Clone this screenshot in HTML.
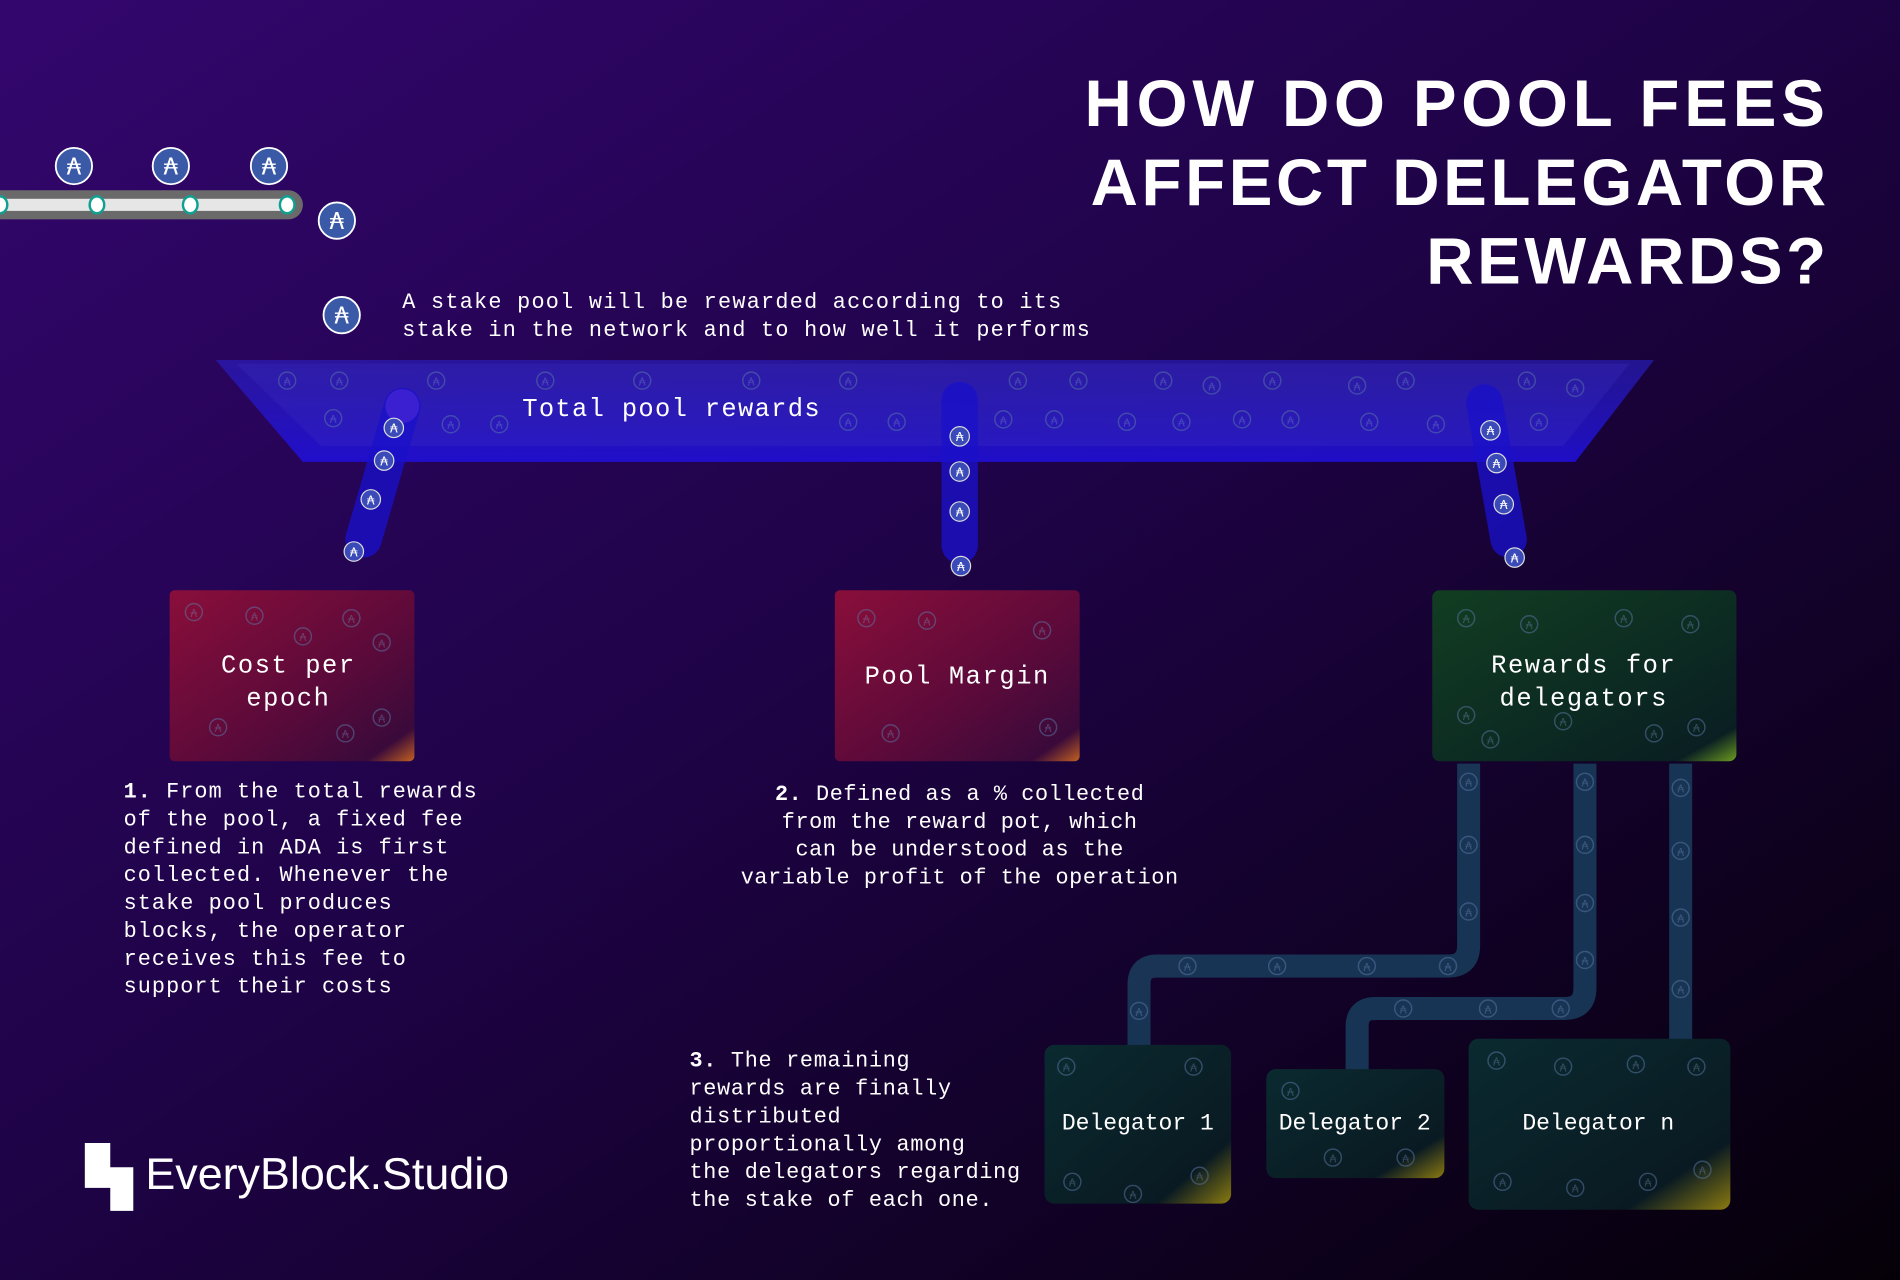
<!DOCTYPE html>
<html><head><meta charset="utf-8"><style>
html,body{margin:0;padding:0;background:#12002a;}
svg{display:block}
text{font-family:"Liberation Mono","DejaVu Sans Mono",monospace;fill:#fff}
.t{font-family:"Liberation Sans","DejaVu Sans",sans-serif;font-weight:bold}
</style></head><body>
<svg width="1900" height="1280" viewBox="0 0 1568 1056" preserveAspectRatio="none" xmlns="http://www.w3.org/2000/svg">
<defs>
<linearGradient id="bg" x1="0" y1="0" x2="1" y2="1">
<stop offset="0" stop-color="#33066e"/><stop offset="0.45" stop-color="#1f0348"/><stop offset="1" stop-color="#050008"/>
</linearGradient>
<linearGradient id="red" x1="0" y1="0" x2="1" y2="1">
<stop offset="0" stop-color="#8a0e3a"/><stop offset="0.6" stop-color="#5a0a3a"/><stop offset="0.9" stop-color="#3a0a3a"/><stop offset="1" stop-color="#c06020"/>
</linearGradient>
<linearGradient id="grn" x1="0" y1="0" x2="1" y2="1">
<stop offset="0" stop-color="#123d22"/><stop offset="0.6" stop-color="#0c2a22"/><stop offset="0.9" stop-color="#0a1f22"/><stop offset="1" stop-color="#6a9a20"/>
</linearGradient>
<linearGradient id="dg" x1="0" y1="0" x2="1" y2="1">
<stop offset="0" stop-color="#0a2a30"/><stop offset="0.8" stop-color="#0a1a22"/><stop offset="1" stop-color="#8a7a10"/>
</linearGradient>
<linearGradient id="fun" x1="0" y1="0" x2="0" y2="1">
<stop offset="0" stop-color="#2a20c8" stop-opacity="0.6"/><stop offset="1" stop-color="#2010e0" stop-opacity="0.85"/>
</linearGradient>
<g id="c"><circle r="15" fill="#3a5aa8" stroke="#fff" stroke-width="1.5"/><text y="7" text-anchor="middle" font-size="19" style="font-family:'DejaVu Sans',sans-serif">₳</text></g>
<g id="s"><circle r="8" fill="#3a4ab8" stroke="#ddd" stroke-width="1"/><text y="4" text-anchor="middle" font-size="10" style="font-family:'DejaVu Sans',sans-serif">₳</text></g>
<g id="f"><circle r="7" fill="none" stroke="#5a7aa8" stroke-opacity="0.5" stroke-width="1.2"/><text y="4" text-anchor="middle" font-size="9" fill-opacity="0.35" style="font-family:'DejaVu Sans',sans-serif;fill:#7a9ac8">₳</text></g>
</defs>
<rect width="1568" height="1056" fill="url(#bg)"/>

<text class="t" x="1510" y="104" font-size="54" text-anchor="end" letter-spacing="4">HOW DO POOL FEES</text>
<text class="t" x="1510" y="169" font-size="54" text-anchor="end" letter-spacing="3">AFFECT DELEGATOR</text>
<text class="t" x="1510" y="234" font-size="54" text-anchor="end" letter-spacing="3">REWARDS?</text>

<!-- conveyor -->
<rect x="-20" y="157" width="270" height="24" rx="12" fill="#6a6a6a"/>
<rect x="-20" y="164" width="262" height="10" fill="#e6e6e6"/>
<g fill="#fff" stroke="#10a090" stroke-width="2">
<ellipse cx="0" cy="169" rx="6" ry="7"/><ellipse cx="80" cy="169" rx="6" ry="7"/><ellipse cx="157" cy="169" rx="6" ry="7"/><ellipse cx="237" cy="169" rx="6" ry="7"/></g>
<use href="#c" x="61" y="137"/><use href="#c" x="141" y="137"/><use href="#c" x="222" y="137"/><use href="#c" x="278" y="182"/>
<use href="#c" x="282" y="260"/>
<g font-size="18" letter-spacing="1.05">
<text x="332" y="254">A stake pool will be rewarded according to its</text>
<text x="332" y="277">stake in the network and to how well it performs</text>
</g>

<!-- funnel -->
<polygon points="178,297 1365,297 1300,381 250,381" fill="url(#fun)"/>
<polygon points="195,300 1345,300 1290,368 265,368" fill="#3a30c0" fill-opacity="0.3"/>
<g>
<use href="#f" x="237" y="314"/><use href="#f" x="280" y="314"/><use href="#f" x="360" y="314"/><use href="#f" x="450" y="314"/><use href="#f" x="530" y="314"/><use href="#f" x="620" y="314"/><use href="#f" x="700" y="314"/><use href="#f" x="840" y="314"/><use href="#f" x="890" y="314"/><use href="#f" x="960" y="314"/><use href="#f" x="1000" y="318"/><use href="#f" x="1050" y="314"/><use href="#f" x="1120" y="318"/><use href="#f" x="1160" y="314"/><use href="#f" x="1260" y="314"/><use href="#f" x="1300" y="320"/>
<use href="#f" x="275" y="345"/><use href="#f" x="372" y="350"/><use href="#f" x="412" y="350"/><use href="#f" x="700" y="348"/><use href="#f" x="740" y="348"/><use href="#f" x="828" y="346"/><use href="#f" x="870" y="346"/><use href="#f" x="930" y="348"/><use href="#f" x="975" y="348"/><use href="#f" x="1025" y="346"/><use href="#f" x="1065" y="346"/><use href="#f" x="1130" y="348"/><use href="#f" x="1185" y="350"/><use href="#f" x="1270" y="348"/>
</g>
<text x="431" y="343" font-size="21" letter-spacing="1.1">Total pool rewards</text>

<!-- tubes -->
<line x1="332" y1="335" x2="300" y2="445" stroke="#1a10c8" stroke-width="30" stroke-linecap="round" stroke-opacity="0.8"/>
<circle cx="332" cy="335" r="14" fill="#3a20d0"/>
<use href="#s" x="325" y="353"/><use href="#s" x="317" y="380"/><use href="#s" x="306" y="412"/><use href="#s" x="292" y="455"/>
<line x1="792" y1="330" x2="792" y2="450" stroke="#1a10c8" stroke-width="30" stroke-linecap="round" stroke-opacity="0.8"/>
<use href="#s" x="792" y="360"/><use href="#s" x="792" y="389"/><use href="#s" x="792" y="422"/><use href="#s" x="793" y="467"/>
<line x1="1225" y1="332" x2="1245" y2="445" stroke="#1a10c8" stroke-width="30" stroke-linecap="round" stroke-opacity="0.8"/>
<use href="#s" x="1230" y="355"/><use href="#s" x="1235" y="382"/><use href="#s" x="1241" y="416"/><use href="#s" x="1250" y="460"/>

<!-- boxes -->
<rect x="140" y="487" width="202" height="141" rx="4" fill="url(#red)"/>
<rect x="689" y="487" width="202" height="141" rx="4" fill="url(#red)"/>
<rect x="1182" y="487" width="251" height="141" rx="6" fill="url(#grn)"/>
<g>
<use href="#f" x="160" y="505"/><use href="#f" x="210" y="508"/><use href="#f" x="290" y="510"/><use href="#f" x="315" y="530"/><use href="#f" x="250" y="525"/><use href="#f" x="180" y="600"/><use href="#f" x="285" y="605"/><use href="#f" x="315" y="592"/>
<use href="#f" x="715" y="510"/><use href="#f" x="765" y="512"/><use href="#f" x="860" y="520"/><use href="#f" x="735" y="605"/><use href="#f" x="865" y="600"/>
<use href="#f" x="1210" y="510"/><use href="#f" x="1262" y="515"/><use href="#f" x="1340" y="510"/><use href="#f" x="1395" y="515"/><use href="#f" x="1210" y="590"/><use href="#f" x="1230" y="610"/><use href="#f" x="1290" y="595"/><use href="#f" x="1365" y="605"/><use href="#f" x="1400" y="600"/>
</g>
<g font-size="21" text-anchor="middle" letter-spacing="1.3">
<text x="238" y="555">Cost per</text>
<text x="238" y="582">epoch</text>
<text x="790" y="564">Pool Margin</text>
<text x="1307" y="555">Rewards for</text>
<text x="1307" y="582">delegators</text>
</g>

<g font-size="18" letter-spacing="0.9">
<text x="102" y="658"><tspan font-weight="bold">1.</tspan> From the total rewards</text>
<text x="102" y="681">of the pool, a fixed fee</text>
<text x="102" y="704">defined in ADA is first</text>
<text x="102" y="727">collected. Whenever the</text>
<text x="102" y="750">stake pool produces</text>
<text x="102" y="773">blocks, the operator</text>
<text x="102" y="796">receives this fee to</text>
<text x="102" y="819">support their costs</text>
</g>
<g font-size="18" text-anchor="middle" letter-spacing="0.5">
<text x="792" y="660"><tspan font-weight="bold">2.</tspan> Defined as a % collected</text>
<text x="792" y="683">from the reward pot, which</text>
<text x="792" y="706">can be understood as the</text>
<text x="792" y="729">variable profit of the operation</text>
</g>
<g font-size="18" letter-spacing="0.6">
<text x="569" y="880"><tspan font-weight="bold">3.</tspan> The remaining</text>
<text x="569" y="903">rewards are finally</text>
<text x="569" y="926">distributed</text>
<text x="569" y="949">proportionally among</text>
<text x="569" y="972">the delegators regarding</text>
<text x="569" y="995">the stake of each one.</text>
</g>

<!-- pipes -->
<g fill="none" stroke="#1a3a5a" stroke-width="19" stroke-opacity="0.9">
<path d="M1212 630 V780 Q1212 797 1195 797 H955 Q940 797 940 812 V865"/>
<path d="M1308 630 V815 Q1308 832 1291 832 H1135 Q1120 832 1120 847 V885"/>
<path d="M1387 630 V858"/>
</g>
<g>
<use href="#f" x="1212" y="645"/><use href="#f" x="1212" y="697"/><use href="#f" x="1212" y="752"/><use href="#f" x="1195" y="797"/><use href="#f" x="1128" y="797"/><use href="#f" x="1054" y="797"/><use href="#f" x="980" y="797"/><use href="#f" x="940" y="834"/>
<use href="#f" x="1308" y="645"/><use href="#f" x="1308" y="697"/><use href="#f" x="1308" y="745"/><use href="#f" x="1308" y="792"/><use href="#f" x="1288" y="832"/><use href="#f" x="1228" y="832"/><use href="#f" x="1158" y="832"/>
<use href="#f" x="1387" y="650"/><use href="#f" x="1387" y="702"/><use href="#f" x="1387" y="757"/><use href="#f" x="1387" y="816"/>
</g>
<rect x="862" y="862" width="154" height="131" rx="8" fill="url(#dg)"/>
<rect x="1045" y="882" width="147" height="90" rx="8" fill="url(#dg)"/>
<rect x="1212" y="857" width="216" height="141" rx="8" fill="url(#dg)"/>
<g>
<use href="#f" x="885" y="975"/><use href="#f" x="935" y="985"/><use href="#f" x="990" y="970"/><use href="#f" x="880" y="880"/><use href="#f" x="985" y="880"/>
<use href="#f" x="1065" y="900"/><use href="#f" x="1100" y="955"/><use href="#f" x="1160" y="955"/>
<use href="#f" x="1235" y="875"/><use href="#f" x="1290" y="880"/><use href="#f" x="1350" y="878"/><use href="#f" x="1400" y="880"/><use href="#f" x="1240" y="975"/><use href="#f" x="1300" y="980"/><use href="#f" x="1360" y="975"/><use href="#f" x="1405" y="965"/>
</g>
<text x="939" y="932" font-size="19" text-anchor="middle">Delegator 1</text>
<text x="1118" y="932" font-size="19" text-anchor="middle">Delegator 2</text>
<text x="1319" y="932" font-size="19" text-anchor="middle">Delegator n</text>

<!-- logo -->
<polygon points="70,943 91,943 91,963 110,963 110,999 91,999 91,980 70,980" fill="#fff"/>
<text x="120" y="981" font-size="37" style="font-family:'Liberation Sans','DejaVu Sans',sans-serif">EveryBlock.Studio</text>
</svg>
</body></html>
